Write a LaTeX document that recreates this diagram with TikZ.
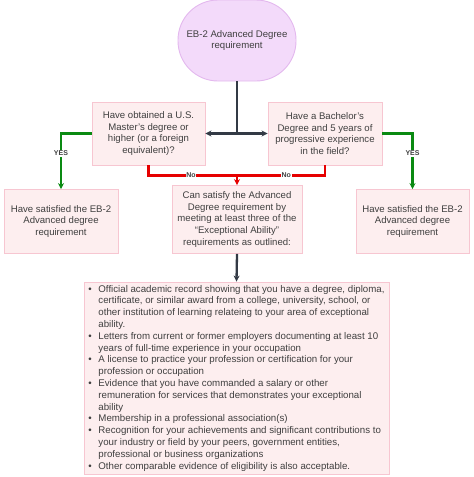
\documentclass[tikz,border=0pt]{standalone}
\usepackage{fontspec}
\setmainfont{Liberation Sans}
\usetikzlibrary{arrows.meta}
\definecolor{boxfill}{HTML}{FDEEEF}
\definecolor{boxline}{HTML}{F7C6D1}
\definecolor{topfill}{HTML}{F3DAFA}
\definecolor{topline}{HTML}{E3B8EE}
\definecolor{txt}{HTML}{3F3F3F}
\definecolor{dark}{HTML}{333A45}
\definecolor{grn}{HTML}{0A8A12}
\definecolor{rd}{HTML}{E60000}
\tikzset{
  box/.style={draw=boxline, fill=boxfill, line width=0.9pt, text=txt, align=center,
    font=\fontsize{9.6}{11.7}\selectfont, inner sep=0pt},
  topbox/.style={draw=topline, fill=topfill, line width=0.9pt, text=txt, align=center,
    font=\fontsize{9.6}{11.7}\selectfont, rounded corners=40pt},
  darkline/.style={draw=dark, line width=2.3pt},
  tip/.style={-{Stealth[length=6pt,width=6pt]}},
  yesline/.style={draw=grn, line width=2.4pt},
  noline/.style={draw=rd, line width=2.4pt},
  lbl/.style={fill=white, inner sep=0.6pt, text=txt, font=\bfseries\fontsize{7}{8}\selectfont},
}
\newcommand{\bul}[1]{\makebox[10pt][l]{\textbullet}#1}
\newcommand{\cnt}[1]{\hspace*{10pt}#1}
\begin{document}
\begin{tikzpicture}[x=1pt,y=-1pt]
\useasboundingbox (0,0) rectangle (474,477);
\node[topbox, minimum width=118pt, minimum height=81pt] (top) at (237,40.5) {EB-2 Advanced Degree\\requirement};
\node[box, minimum width=113pt, minimum height=63pt] (q1) at (148.5,133.5) {Have obtained a U.S.\\Master's degree or\\higher (or a foreign\\equivalent)?};
\node[box, minimum width=114pt, minimum height=63pt] (q2) at (325,133.5) {Have a Bachelor's\\Degree and 5 years of\\progressive experience\\in the field?};
\node[box, minimum width=114pt, minimum height=64pt] (r1) at (61,221.5) {Have satisfied the EB-2\\Advanced degree\\requirement};
\node[box, minimum width=113pt, minimum height=64pt] (r2) at (412.5,221.5) {Have satisfied the EB-2\\Advanced degree\\requirement};
\node[box, minimum width=130pt, minimum height=68pt] (mid) at (237,219.5) {Can satisfy the Advanced\\Degree requirement by\\meeting at least three of the\\``Exceptional Ability''\\requirements as outlined:};
\node[box, minimum width=305pt, minimum height=192pt, align=left, font=\fontsize{9.7}{11.8}\selectfont] (list) at (236.5,378) {%
\bul{Official academic record showing that you have a degree, diploma,}\\
\cnt{certificate, or similar award from a college, university, school, or}\\
\cnt{other institution of learning relateing to your area of exceptional}\\
\cnt{ability.}\\
\bul{Letters from current or former employers documenting at least 10}\\
\cnt{years of full-time experience in your occupation}\\
\bul{A license to practice your profession or certification for your}\\
\cnt{profession or occupation}\\
\bul{Evidence that you have commanded a salary or other}\\
\cnt{remuneration for services that demonstrates your exceptional}\\
\cnt{ability}\\
\bul{Membership in a professional association(s)}\\
\bul{Recognition for your achievements and significant contributions to}\\
\cnt{your industry or field by your peers, government entities,}\\
\cnt{professional or business organizations}\\
\bul{Other comparable evidence of eligibility is also acceptable.}};
\coordinate (j) at (237,133.5);
\coordinate (jr) at (237,175.5);
\draw[darkline] (top.south) -- (j);
\draw[darkline, tip] (j) -- (q1.east);
\draw[darkline, tip] (j) -- (q2.west);
\draw[yesline, tip] (q1.west) -| node[lbl, pos=0.68] {YES} (r1.north);
\draw[yesline, tip] (q2.east) -| node[lbl, pos=0.68] {YES} (r2.north);
\draw[noline] (q1.south) |- node[lbl, pos=0.74] {No} (jr);
\draw[noline] (q2.south) |- node[lbl, pos=0.72] {No} (jr);
\draw[noline, tip] (jr) -- (mid.north);
\draw[darkline, tip] (mid.south) -- (list.north);
\end{tikzpicture}
\end{document}
